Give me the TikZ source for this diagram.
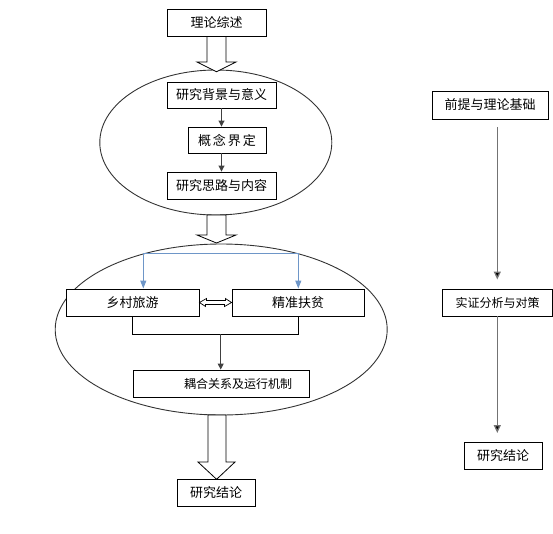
\documentclass[tikz,border=0pt]{standalone}
\usepackage{fontspec}
\newfontfamily\cjk{Noto Sans CJK SC}
\usetikzlibrary{arrows.meta}
\definecolor{bluearr}{RGB}{110,150,200}
\tikzset{
  box/.style={draw=black, line width=0.9pt, fill=white, inner sep=0pt, font=\cjk\fontsize{13}{13}\selectfont},
  smallbox/.style={box, font=\cjk\fontsize{12}{12}\selectfont},
  darr/.style={draw=black!75, line width=0.9pt, -{Triangle[length=6pt,width=6pt]}},
  garr/.style={draw=black!55, line width=1.3pt, -{Triangle[length=8pt,width=7pt,fill=black]}},
  barr/.style={draw=bluearr, line width=1pt, -{Triangle[length=8pt,width=6pt]}},
  bline/.style={draw=bluearr, line width=1pt},
  hollow/.style={draw=black, line width=0.8pt, fill=white, line join=miter},
  oval/.style={draw=black!80, line width=0.9pt},
}
\begin{document}
\begin{tikzpicture}[x=1pt,y=-1pt]
\useasboundingbox (0,0) rectangle (553,533);
% ellipses
\draw[oval] (215.8,142.5) ellipse [x radius=116pt, y radius=72.5pt];
\draw[oval] (221.2,329.5) ellipse [x radius=166pt, y radius=85.5pt];
% hollow block arrows
\draw[hollow] (207,36) -- (207,62) -- (197,62) -- (216.5,71.7) -- (236,62) -- (226,62) -- (226,36) -- cycle;
\draw[hollow] (207,215) -- (207,235) -- (197,235) -- (216.5,243) -- (236,235) -- (226,235) -- (226,215) -- cycle;
\draw[hollow] (208,415) -- (208,462) -- (198,462) -- (216.6,479.3) -- (235,462) -- (226,462) -- (226,415) -- cycle;
% left column boxes
\node[box, minimum width=99pt, minimum height=27pt] (t1) at (216.5,22.5) {理论综述};
\node[box, minimum width=109pt, minimum height=26pt] (b1) at (221.5,95) {研究背景与意义};
\node[box, minimum width=78pt, minimum height=26pt] (b2) at (227,140) {概\hspace{2pt}念\hspace{2pt}界\hspace{2pt}定};
\node[box, minimum width=109pt, minimum height=27pt] (b3) at (221.5,185.5) {研究思路与内容};
\node[box, minimum width=133pt, minimum height=27pt] (r1) at (132.5,302.5) {乡村旅游};
\node[box, minimum width=132pt, minimum height=27pt] (r2) at (298,302.5) {精准扶贫};
\node[smallbox, minimum width=176pt, minimum height=27pt] (c1) at (221,383.5) {\hspace*{34pt}耦合关系及运行机制};
\node[box, minimum width=78pt, minimum height=27pt] (e1) at (216,492.5) {研究结论};
% right column boxes
\node[box, minimum width=116pt, minimum height=28pt] (s1) at (490,105) {前提与理论基础};
\node[smallbox, minimum width=110pt, minimum height=27pt] (s2) at (497.5,302.5) {实证分析与对策};
\node[box, minimum width=78pt, minimum height=27pt] (s3) at (503,455.5) {研究结论};
% arrows in first ellipse
\draw[darr] (b1.south) -- (b1.south |- b2.north);
\draw[darr] (b2.south -| b3.north) -- (b3.north);
% blue arrows
\coordinate (bl) at (143.3,253.3);
\coordinate (br) at (298.3,253.3);
\draw[bline] (bl) -- (br);
\draw[barr] (bl) -- (bl |- r1.north);
\draw[barr] (br) -- (br |- r2.north);
% double hollow arrow
\draw[hollow, line width=0.7pt] (r1.east) -- ++(7,-4) -- ++(0,2) -- ++(19,0) -- ++(0,-2) -- (r2.west) -- ++(-7,4) -- ++(0,-2) -- ++(-19,0) -- ++(0,2) -- cycle;
% bracket and arrow to coupling box
\coordinate (m) at (220.7,334);
\draw[line width=0.9pt] (r1.south) -- (r1.south |- m) -- (r2.south |- m) -- (r2.south);
\draw[darr] (m) -- (m |- c1.north);
% right column arrows
\coordinate (g1) at (497.3,127);
\coordinate (g2) at (497.3,316);
\draw[garr] (g1) -- (497.3,279.5);
\draw[garr] (g2) -- (497.3,433);
\end{tikzpicture}
\end{document}
